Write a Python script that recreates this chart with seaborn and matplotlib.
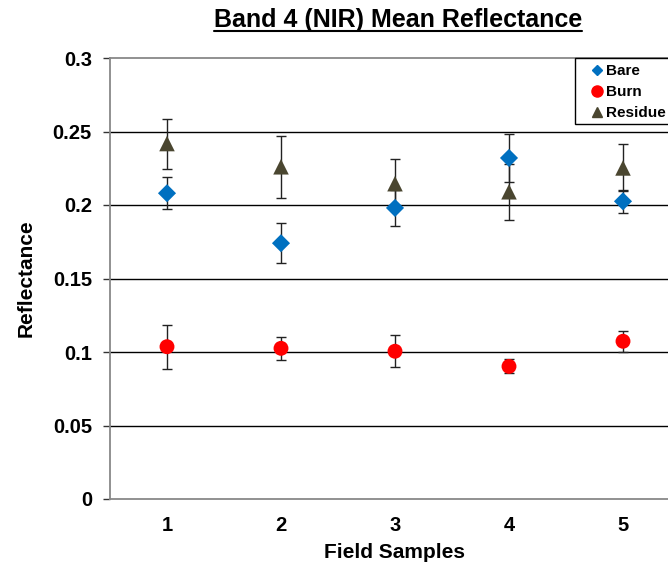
import numpy as np
import pandas as pd
import matplotlib
matplotlib.use("Agg")
import matplotlib.pyplot as plt
from matplotlib.lines import Line2D
from matplotlib.patches import Rectangle
from matplotlib.ticker import FixedLocator
import seaborn as sns

samples = [1, 2, 3, 4, 5]
bare_mean = [0.208, 0.174, 0.198, 0.232, 0.2025]
bare_err = [0.011, 0.0135, 0.012, 0.0166, 0.008]
burn_mean = [0.1036, 0.1025, 0.1005, 0.0902, 0.1073]
burn_err = [0.015, 0.0077, 0.0108, 0.0048, 0.0072]
residue_mean = [0.2418, 0.226, 0.2145, 0.209, 0.2252]
residue_err = [0.017, 0.021, 0.0166, 0.019, 0.016]
series_names = ["Bare", "Burn", "Residue"]
yticks = [0, 0.05, 0.1, 0.15, 0.2, 0.25, 0.3]
ytick_labels = ["0", "0.05", "0.1", "0.15", "0.2", "0.25", "0.3"]

df = pd.concat([
    pd.DataFrame({"sample": samples, "mean": bare_mean, "err": bare_err, "series": "Bare"}),
    pd.DataFrame({"sample": samples, "mean": burn_mean, "err": burn_err, "series": "Burn"}),
    pd.DataFrame({"sample": samples, "mean": residue_mean, "err": residue_err, "series": "Residue"}),
])

sns.set_theme(style="white")
plt.rcParams["font.family"] = ["Liberation Sans", "DejaVu Sans"]
plt.rcParams["font.weight"] = "bold"
plt.rcParams["text.color"] = "black"
plt.rcParams["axes.labelcolor"] = "black"
plt.rcParams["xtick.color"] = "black"
plt.rcParams["ytick.color"] = "black"

colors = {"Bare": "#0070C0", "Burn": "#FF0000", "Residue": "#4A4630"}
markers = {"Bare": "D", "Burn": "o", "Residue": "^"}
sizes = {"Bare": 85, "Burn": 115, "Residue": 125}

W, H = 668, 564
fig = plt.figure(figsize=(W / 100, H / 100), dpi=100)
left, right, bottom, top = 110, 680, 499, 58
ax = fig.add_axes([left / W, 1 - bottom / H, (right - left) / W, (bottom - top) / H])

# grid lines
for yv in yticks[1:-1]:
    ax.axhline(yv, color="#000000", lw=1.0, zorder=0)

# error bars
for name in series_names:
    sub = df[df["series"] == name]
    ax.errorbar(sub["sample"], sub["mean"], yerr=sub["err"], fmt="none",
                ecolor="#222222", elinewidth=1.0, capsize=3.5, capthick=1.0, zorder=2)

for name in series_names:
    sub = df[df["series"] == name]
    sns.scatterplot(data=sub, x="sample", y="mean", ax=ax, color=colors[name],
                    marker=markers[name], s=sizes[name], edgecolor="none",
                    zorder=3, legend=False)

ax.set_xlim(0.5, 5.5)
ax.set_ylim(0, 0.3)
ax.yaxis.set_major_locator(FixedLocator(yticks))
ax.set_yticklabels(ytick_labels)
ax.set_xticks(samples)
ax.set_xticklabels([str(s) for s in samples])
ax.xaxis.set_minor_locator(FixedLocator([0.5, 1.5, 2.5, 3.5, 4.5, 5.5]))
ax.tick_params(axis="x", which="major", length=0, pad=12, labelsize=14.5, labelcolor="black")
ax.tick_params(axis="x", which="minor", length=5, width=1, color="#333333", direction="out")
ax.tick_params(axis="y", which="major", length=5, width=1, color="#333333", direction="out",
               pad=8, labelsize=14.5, left=True, labelcolor="black")
for lab in ax.get_xticklabels() + ax.get_yticklabels():
    lab.set_fontweight("bold")

for sp in ["left", "bottom", "top"]:
    ax.spines[sp].set_visible(True)
    ax.spines[sp].set_color("#888888")
    ax.spines[sp].set_linewidth(1.3)
ax.spines["right"].set_visible(False)

ax.set_xlabel("Field Samples", fontsize=15, fontweight="bold", labelpad=6, color="black")
ax.set_ylabel("Reflectance", fontsize=15, fontweight="bold", labelpad=12, color="black")

# legend frame (extends past the right edge, as in the reference)
ax.add_patch(Rectangle((575 / W, 1 - 124 / H), 140 / W, 66 / H, transform=fig.transFigure,
                       facecolor="white", edgecolor="black", lw=1.0, zorder=4, clip_on=False))
handles = [Line2D([], [], linestyle="none", marker=markers[n], color=colors[n],
                  markersize={"Bare": 5.5, "Burn": 8, "Residue": 7.5}[n]) for n in series_names]
leg = ax.legend(handles, series_names, loc="upper left",
                bbox_to_anchor=(585 / W, 1 - 59 / H), bbox_transform=fig.transFigure,
                frameon=False, prop={"weight": "bold", "size": 11}, handlelength=0.9,
                handletextpad=0.15, labelspacing=0.45, borderpad=0.35, borderaxespad=0)
leg.set_zorder(5)

# title with underline
title = fig.text(398 / W, 1 - 20 / H, "Band 4 (NIR) Mean Reflectance",
                 ha="center", va="center", fontsize=18, fontweight="bold", color="black")
fig.canvas.draw()
bb = title.get_window_extent()
inv = fig.transFigure.inverted()
(x0, y0), (x1, y1) = inv.transform([(bb.x0, bb.y0), (bb.x1, bb.y0)])
fig.add_artist(Line2D([x0, x1], [y0 + 0.002, y0 + 0.002], transform=fig.transFigure,
                      color="black", lw=1.5))

fig.savefig("out.png", dpi=100)
